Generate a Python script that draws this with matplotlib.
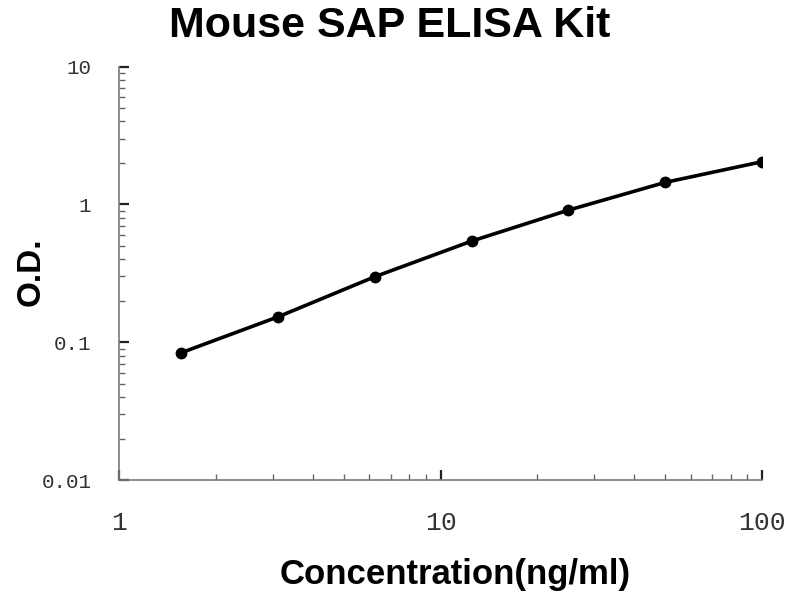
import matplotlib
matplotlib.use("Agg")
import matplotlib.pyplot as plt
from matplotlib.ticker import LogLocator, FixedLocator, FixedFormatter, NullFormatter

# Data
concentration = [1.5625, 3.125, 6.25, 12.5, 25, 50, 100]
od_values = [0.084, 0.153, 0.299, 0.542, 0.909, 1.445, 2.04]
x_ticks = [1, 10, 100]
x_tick_labels = ["1", "10", "100"]
y_ticks = [0.01, 0.1, 1, 10]
y_tick_labels = ["0.01", "0.1", "1", "10"]

fig = plt.figure(figsize=(8, 6), dpi=100)
ax = fig.add_axes([0.149, 0.2, 0.8035, 0.689])

ax.plot(concentration, od_values, color="black", linewidth=2.6,
        marker="o", markersize=7.5, markerfacecolor="black", markeredgecolor="black")

ax.set_xscale("log")
ax.set_yscale("log")
ax.set_xlim(1, 100)
ax.set_ylim(0.01, 10)

ax.xaxis.set_major_locator(FixedLocator(x_ticks))
ax.xaxis.set_major_formatter(FixedFormatter(x_tick_labels))
ax.yaxis.set_major_locator(FixedLocator(y_ticks))
ax.yaxis.set_major_formatter(FixedFormatter(y_tick_labels))
ax.xaxis.set_minor_locator(LogLocator(base=10, subs=range(2, 10)))
ax.yaxis.set_minor_locator(LogLocator(base=10, subs=range(2, 10)))
ax.xaxis.set_minor_formatter(NullFormatter())
ax.yaxis.set_minor_formatter(NullFormatter())

for s in ["top", "right"]:
    ax.spines[s].set_visible(False)
for s in ["left", "bottom"]:
    ax.spines[s].set_color("#7a7a7a")
    ax.spines[s].set_linewidth(1.2)

ax.tick_params(axis="both", which="major", direction="in", length=7, width=1.6,
               color="#222222", labelcolor="#333333")
ax.tick_params(axis="both", which="minor", direction="in", length=4, width=1.0,
               color="#666666")
ax.tick_params(axis="y", which="major", pad=20)
ax.tick_params(axis="x", which="major", pad=22)
for lab in ax.get_xticklabels():
    lab.set_fontfamily(["Liberation Mono", "DejaVu Sans Mono"])
    lab.set_fontsize(19)
for lab in ax.get_yticklabels():
    lab.set_fontfamily(["Liberation Mono", "DejaVu Sans Mono"])
    lab.set_fontsize(15)

fig.text(0.4875, 0.938, "Mouse SAP ELISA Kit", ha="center", va="baseline",
         fontsize=31, fontweight="bold", family=["Liberation Sans", "DejaVu Sans"])
fig.text(0.569, 0.042, "Concentration(ng/ml)", ha="center", va="center",
         fontsize=25, fontweight="bold", family=["Liberation Sans", "DejaVu Sans"])
fig.text(0.039, 0.547, "O.D.", ha="center", va="center", rotation=90,
         fontsize=24, fontweight="bold", family=["Liberation Sans", "DejaVu Sans"])

fig.savefig("out.png", dpi=100, facecolor="white")
